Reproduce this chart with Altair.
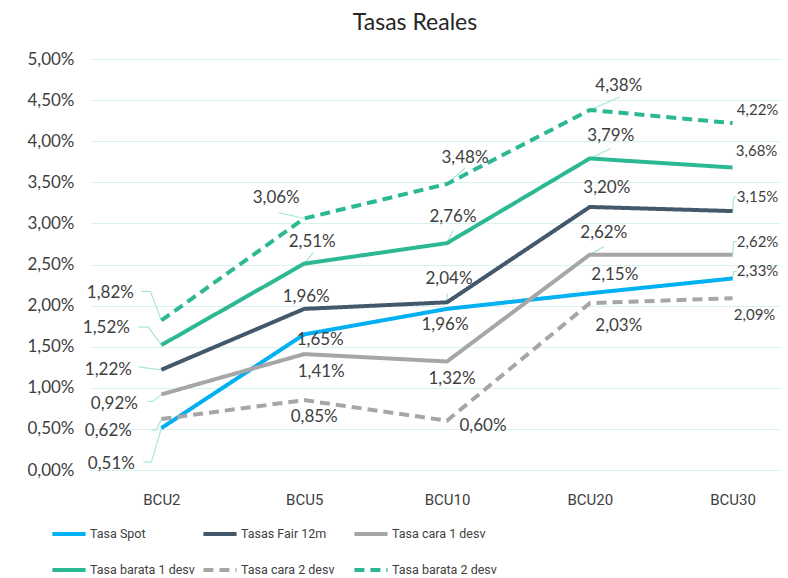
import altair as alt
import pandas as pd

categories = ["BCU2", "BCU5", "BCU10", "BCU20", "BCU30"]
series_names = ["Tasa Spot", "Tasas Fair 12m", "Tasa cara 1 desv",
                "Tasa barata 1 desv", "Tasa cara 2 desv", "Tasa barata 2 desv"]

tasa_spot = [0.51, 1.65, 1.96, 2.15, 2.33]
tasas_fair = [1.22, 1.96, 2.04, 3.20, 3.15]
tasa_cara_1 = [0.92, 1.41, 1.32, 2.62, 2.62]
tasa_barata_1 = [1.52, 2.51, 2.76, 3.79, 3.68]
tasa_cara_2 = [0.62, 0.85, 0.60, 2.03, 2.09]
tasa_barata_2 = [1.82, 3.06, 3.48, 4.38, 4.22]
values = [tasa_spot, tasas_fair, tasa_cara_1, tasa_barata_1, tasa_cara_2, tasa_barata_2]

y_ticks = [0, 0.5, 1, 1.5, 2, 2.5, 3, 3.5, 4, 4.5, 5]

# styling
colors = ["#00B0F0", "#44586C", "#A6A6A6", "#2DB894", "#A6A6A6", "#2DB894"]
dashes = [[1, 0], [1, 0], [1, 0], [1, 0], [10, 6], [10, 6]]

# label pixel offsets (dx, dy) per series, per category
label_dx = [
    [-50, 16, -2, 25, 25],
    [-53, 2, 2, 17, 25],
    [-47, 17, 5, 14, 25],
    [-55, 8, 6, 21, 24],
    [-53, 10, 36, 29, 22],
    [-51, -28, 18, 29, 25],
]
label_dy = [
    [36, 6, 16, -18, -7],
    [0, -12, -23, -19, -14],
    [10, 18, 18, -22, -13],
    [-17, -22, -26, -22, -17],
    [12, 17, 5, 23, 17],
    [-27, -20, -26, -24, -13],
]
label_size = [17, 17, 17, 17, 15]  # per category

# leader lines: (series, category index, elbow dx, elbow dy, end dx, end dy)
leaders = [
    (0, 0, -10, 34, -18, 34),
    (1, 0, -11, -1, -23, -3),
    (2, 0, -8, 7, -14, 7),
    (3, 0, -13, -18, -23, -18),
    (4, 0, -5, 11, -10, 11),
    (5, 0, -11, -29, -20, -29),
    (5, 1, -26, -6, -26, -6),
    (3, 1, 9, -11, 9, -11),
    (5, 2, 18, -16, 18, -16),
    (3, 2, 6, -13, 6, -13),
    (1, 2, 0, -9, 0, -9),
    (5, 3, 30, -13, 30, -13),
    (3, 3, 21, -10, 21, -10),
    (2, 3, 14, -8, 14, -8),
    (1, 4, 1, -14, 4, -14),
    (2, 4, 1, -13, 4, -13),
    (0, 4, 1, -7, 4, -7),
]

rows = []
for si, name in enumerate(series_names):
    for ci, cat in enumerate(categories):
        rows.append({"serie": name, "cat": cat, "v": values[si][ci],
                     "dx": label_dx[si][ci], "dy": label_dy[si][ci],
                     "fs": label_size[ci]})
df = pd.DataFrame(rows)

lrows = []
for si, ci, ex, ey, lx, ly in leaders:
    lrows.append({"serie": series_names[si], "cat": categories[ci],
                  "v": values[si][ci], "ex": ex, "ey": ey, "lx": lx, "ly": ly})
ldf = pd.DataFrame(lrows)

FONT = "Lato"
NARROW = "Roboto"

x_enc = alt.X("cat:N", sort=categories,
              scale=alt.Scale(type="point", padding=0.5, range=[0, 714]),
              axis=alt.Axis(title=None, labelAngle=0, domain=False, ticks=False,
                            grid=False, labelFont=NARROW, labelFontSize=15,
                            labelColor="#404040", labelPadding=22))
y_enc = alt.Y("v:Q", scale=alt.Scale(domain=[0, 5], nice=False),
              axis=alt.Axis(title=None, values=y_ticks, domain=False, ticks=False,
                            gridColor="#D8F2EC", gridWidth=1, labelFont=FONT,
                            labelFontSize=17, labelColor="#404040", labelPadding=16,
                            labelExpr="replace(format(datum.value, '.2f'), '.', ',') + '%'"))

legend = alt.Legend(title=None, orient="none", legendX=-40, legendY=456,
                    direction="horizontal",
                    columns=3, gridAlign="all", symbolType="stroke",
                    symbolSize=1100, symbolStrokeWidth=4, labelFont=NARROW,
                    labelFontSize=12.5, labelColor="#404040", labelOffset=2,
                    columnPadding=0, rowPadding=9, labelLimit=300)

base = alt.Chart(df)

lines = base.mark_line(strokeWidth=4, strokeCap="butt").encode(
    x=x_enc, y=y_enc,
    color=alt.Color("serie:N", sort=series_names,
                    scale=alt.Scale(domain=series_names, range=colors), legend=legend),
    strokeDash=alt.StrokeDash("serie:N", sort=series_names,
                              scale=alt.Scale(domain=series_names, range=dashes),
                              legend=legend),
)

lead_color = "#A8E6D8"
lead1 = alt.Chart(ldf).mark_rule(color=lead_color, strokeWidth=1.2,
                                 x2Offset={"expr": "datum.ex"},
                                 y2Offset={"expr": "datum.ey"}).encode(
    x=x_enc, y=y_enc, x2=alt.X2("cat"), y2=alt.Y2("v"))
lead2 = alt.Chart(ldf).mark_rule(color=lead_color, strokeWidth=1.2,
                                 xOffset={"expr": "datum.ex"},
                                 yOffset={"expr": "datum.ey"},
                                 x2Offset={"expr": "datum.lx"},
                                 y2Offset={"expr": "datum.ly"}).encode(
    x=x_enc, y=y_enc, x2=alt.X2("cat"), y2=alt.Y2("v"))

labels = base.mark_text(font=FONT, fontSize={"expr": "datum.fs"}, color="#404040",
                        align="center", baseline="middle",
                        dx={"expr": "datum.dx"}, dy={"expr": "datum.dy"}).encode(
    x=x_enc, y=y_enc,
    text="lbl:N").transform_calculate(
    lbl="replace(format(datum.v, '.2f'), '.', ',') + '%'")

chart = alt.layer(lead1, lead2, lines, labels).properties(
    width=690, height=411,
    autosize=alt.AutoSizeParams(type="none"),
    padding={"left": 82, "top": 51, "right": 0, "bottom": 112},
    title=alt.TitleParams("Tasas Reales", font=FONT, fontSize=23, fontWeight="normal",
                          color="#262626", anchor="middle", dx=-20, offset=-3,
                          frame="group", baseline="alphabetic"),
).configure(background="white", view=alt.ViewConfig(stroke=None))

chart.save("out.html", embed_options={"renderer": "svg", "actions": False})
